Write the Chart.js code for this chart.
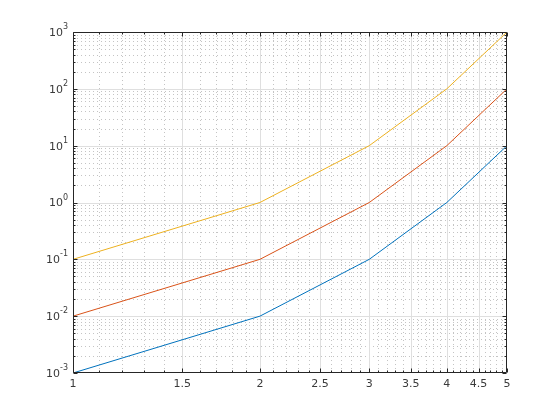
<!DOCTYPE html>
<html>
<head>
<meta charset="utf-8">
<script src="https://cdn.jsdelivr.net/npm/chart.js@4/dist/chart.umd.min.js"></script>
<style>
  html, body { margin: 0; padding: 0; background: #fff; }
  #wrap { width: 560px; height: 420px; }
</style>
</head>
<body>
<div id="wrap"><canvas id="chart" width="560" height="420"></canvas></div>
<script>
// values
const xValues = [1, 2, 3, 4, 5];
const blueValues = [0.001, 0.01, 0.1, 1, 10];
const redValues = [0.01, 0.1, 1, 10, 100];
const yellowValues = [0.1, 1, 10, 100, 1000];

const xTickLabels = ['1', '1.5', '2', '2.5', '3', '3.5', '4', '4.5', '5'];
const xTicks = [1, 1.5, 2, 2.5, 3, 3.5, 4, 4.5, 5];
const yTickExponents = [-3, -2, -1, 0, 1, 2, 3];

const toPoints = ys => xValues.map((x, i) => ({ x: x, y: ys[i] }));

// minor positions: every 0.1 on x, 2..9 per decade on y
const xMinor = [];
for (let v = 11; v < 50; v++) if (v % 5 !== 0) xMinor.push(v / 10);
const yMinor = [];
yTickExponents.slice(0, -1).forEach(e => {
  for (let m = 2; m <= 9; m++) yMinor.push(m * Math.pow(10, e));
});

const axesPlugin = {
  id: 'matlabAxes',
  beforeDatasetsDraw(chart) {
    const { ctx, chartArea: a, scales: { x, y } } = chart;
    ctx.save();
    ctx.lineWidth = 1;
    // minor dotted grid
    ctx.strokeStyle = '#c4c4c4';
    ctx.setLineDash([1, 3]);
    ctx.beginPath();
    xMinor.forEach(v => {
      const px = Math.round(x.getPixelForValue(v)) + 0.5;
      ctx.moveTo(px, a.top); ctx.lineTo(px, a.bottom);
    });
    yMinor.forEach(v => {
      const py = Math.round(y.getPixelForValue(v)) + 0.5;
      ctx.moveTo(a.left, py); ctx.lineTo(a.right, py);
    });
    ctx.stroke();
    // major solid grid
    ctx.setLineDash([]);
    ctx.strokeStyle = '#dfdfdf';
    ctx.beginPath();
    xTicks.slice(1, -1).forEach(v => {
      const px = Math.round(x.getPixelForValue(v)) + 0.5;
      ctx.moveTo(px, a.top); ctx.lineTo(px, a.bottom);
    });
    yTickExponents.slice(1, -1).forEach(e => {
      const py = Math.round(y.getPixelForValue(Math.pow(10, e))) + 0.5;
      ctx.moveTo(a.left, py); ctx.lineTo(a.right, py);
    });
    ctx.stroke();
    ctx.restore();
  },
  afterDatasetsDraw(chart) {
    const { ctx, chartArea: a, scales: { x, y } } = chart;
    ctx.save();
    ctx.strokeStyle = '#262626';
    ctx.lineWidth = 1;
    const L = Math.round(a.left) + 0.5, R = Math.round(a.right) - 0.5;
    const T = Math.round(a.top) + 0.5, B = Math.round(a.bottom) - 0.5;
    ctx.beginPath();
    ctx.rect(L, T, R - L, B - T);
    // inward ticks
    const tick = (v, len, axis) => {
      if (axis === 'x') {
        const px = Math.round(x.getPixelForValue(v)) + 0.5;
        ctx.moveTo(px, B); ctx.lineTo(px, B - len);
        ctx.moveTo(px, T); ctx.lineTo(px, T + len);
      } else {
        const py = Math.round(y.getPixelForValue(v)) + 0.5;
        ctx.moveTo(L, py); ctx.lineTo(L + len, py);
        ctx.moveTo(R, py); ctx.lineTo(R - len, py);
      }
    };
    xTicks.forEach(v => tick(v, 4, 'x'));
    xMinor.forEach(v => tick(v, 2, 'x'));
    yTickExponents.forEach(e => tick(Math.pow(10, e), 4, 'y'));
    yMinor.forEach(v => tick(v, 2, 'y'));
    ctx.stroke();

    // tick labels
    ctx.fillStyle = '#3a3a3a';
    ctx.font = '11px "DejaVu Sans", sans-serif';
    ctx.textAlign = 'center';
    ctx.textBaseline = 'top';
    xTicks.forEach((v, i) => {
      ctx.fillText(xTickLabels[i], x.getPixelForValue(v), a.bottom + 6);
    });
    ctx.textBaseline = 'middle';
    yTickExponents.forEach(e => {
      const py = y.getPixelForValue(Math.pow(10, e));
      const sup = String(e);
      ctx.font = '8px "DejaVu Sans", sans-serif';
      const supW = ctx.measureText(sup).width;
      const right = a.left - 5;
      ctx.textAlign = 'left';
      ctx.fillText(sup, right - supW, py - 5);
      ctx.font = '11px "DejaVu Sans", sans-serif';
      ctx.textAlign = 'right';
      ctx.fillText('10', right - supW, py + 1);
    });
    ctx.restore();
  }
};

new Chart(document.getElementById('chart'), {
  type: 'line',
  data: {
    datasets: [
      { data: toPoints(blueValues), borderColor: '#0072BD' },
      { data: toPoints(redValues), borderColor: '#D95319' },
      { data: toPoints(yellowValues), borderColor: '#EDB120' }
    ].map(d => Object.assign(d, { borderWidth: 1, pointRadius: 0, tension: 0, fill: false }))
  },
  options: {
    responsive: false,
    animation: false,
    layout: { padding: { left: 73, right: 53, top: 32, bottom: 47 } },
    plugins: { legend: { display: false }, tooltip: { enabled: false } },
    scales: {
      x: { type: 'logarithmic', min: 1, max: 5, display: false },
      y: { type: 'logarithmic', min: 0.001, max: 1000, display: false }
    }
  },
  plugins: [axesPlugin]
});
</script>
</body>
</html>
